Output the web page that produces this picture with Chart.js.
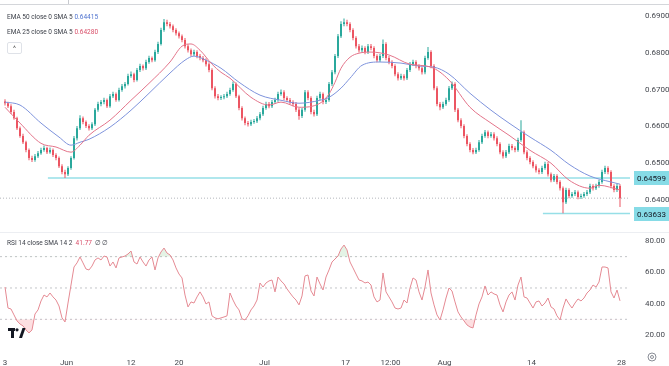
<!DOCTYPE html>
<html><head><meta charset="utf-8">
<script src="https://cdn.jsdelivr.net/npm/chart.js@4.4.0/dist/chart.umd.min.js"></script>
<style>
html,body{margin:0;padding:0;background:#fff;}
#wrap{position:relative;width:669px;height:366px;overflow:hidden;font-family:Roboto,"Liberation Sans",sans-serif;background:#fff;}
canvas{position:absolute;left:0;}
#cA{top:0;}
#cB{top:232px;}
#topline{position:absolute;left:0;top:4px;width:669px;height:1px;background:#d4d6da;}
#topmark{position:absolute;left:68px;top:0;width:1px;height:4px;background:#c8cacf;}
#sep{position:absolute;left:0;top:232px;width:669px;height:1px;background:#eceef2;}
.leg{position:absolute;left:7px;font-size:7px;line-height:10px;color:#3a3e47;white-space:nowrap;transform:scaleX(0.93);transform-origin:0 50%;}
#btn{position:absolute;left:7px;top:42px;width:13px;height:10px;border:1px solid #dfe2e8;border-radius:2px;font-size:7px;line-height:12px;text-align:center;color:#555;}
</style></head>
<body>
<div id="wrap">
<canvas id="cA" width="669" height="232"></canvas>
<canvas id="cB" width="669" height="134"></canvas>
<div id="topline"></div><div id="topmark"></div><div id="sep"></div>
<div class="leg" style="top:12px">EMA 50 close 0 SMA 5 <span style="color:#4f73cf">0.64415</span></div>
<div class="leg" style="top:27px">EMA 25 close 0 SMA 5 <span style="color:#d9506a">0.64280</span></div>
<div id="btn">^</div>
<div class="leg" style="top:238px">RSI 14 close SMA 14 2 &nbsp;<span style="color:#d9506a">41.77</span> &nbsp;∅ ∅</div>
</div>
<script>
// ---------- data ----------
const opens = [
0.6668,0.6663,0.6655,0.6639,0.6622,0.6595,0.6574,0.6557,0.6536,0.6514,
0.6509,0.6519,0.6527,0.6536,0.6541,0.6530,0.6536,0.6522,0.6514,0.6492,
0.6476,0.6470,0.6487,0.6514,0.6568,0.6595,0.6622,0.6612,0.6601,0.6595,
0.6606,0.6645,0.6661,0.6666,0.6672,0.6655,0.6682,0.6688,0.6672,0.6699,
0.6709,0.6715,0.6737,0.6742,0.6726,0.6753,0.6764,0.6758,0.6775,0.6786,
0.6780,0.6802,0.6824,0.6862,0.6883,0.6878,0.6872,0.6862,0.6853,0.6845,
0.6835,0.6818,0.6807,0.6796,0.6802,0.6791,0.6786,0.6780,0.6769,0.6753,
0.6704,0.6682,0.6677,0.6679,0.6682,0.6688,0.6699,0.6715,0.6682,0.6650,
0.6622,0.6609,0.6606,0.6612,0.6614,0.6622,0.6633,0.6650,0.6661,0.6655,
0.6666,0.6672,0.6688,0.6693,0.6677,0.6672,0.6666,0.6661,0.6645,0.6628,
0.6645,0.6693,0.6677,0.6639,0.6633,0.6677,0.6688,0.6666,0.6672,0.6715,
0.6747,0.6791,0.6845,0.6878,0.6883,0.6878,0.6862,0.6840,0.6818,0.6807,
0.6813,0.6802,0.6818,0.6813,0.6791,0.6780,0.6791,0.6824,0.6786,0.6775,
0.6764,0.6742,0.6731,0.6737,0.6731,0.6753,0.6769,0.6775,0.6764,0.6758,
0.6747,0.6786,0.6802,0.6764,0.6704,0.6661,0.6652,0.6661,0.6672,0.6704,
0.6715,0.6645,0.6617,0.6601,0.6574,0.6552,0.6536,0.6530,0.6536,0.6557,
0.6574,0.6584,0.6574,0.6579,0.6568,0.6552,0.6530,0.6519,0.6530,0.6547,
0.6541,0.6536,0.6563,0.6584,0.6530,0.6514,0.6503,0.6492,0.6481,0.6476,
0.6487,0.6498,0.6470,0.6454,0.6465,0.6449,0.6432,0.6394,0.6427,0.6411,
0.6416,0.6421,0.6408,0.6411,0.6416,0.6421,0.6438,0.6432,0.6438,0.6449,
0.6476,0.6487,0.6476,0.6438,0.6427,0.6438];
const highs = [
0.6674,0.6667,0.6660,0.6645,0.6626,0.6600,0.6580,0.6561,0.6540,0.6520,
0.6525,0.6533,0.6542,0.6548,0.6545,0.6543,0.6540,0.6527,0.6518,0.6497,
0.6482,0.6492,0.6519,0.6574,0.6601,0.6630,0.6627,0.6616,0.6606,0.6611,
0.6650,0.6667,0.6672,0.6678,0.6676,0.6688,0.6694,0.6692,0.6705,0.6715,
0.6721,0.6743,0.6749,0.6746,0.6759,0.6770,0.6768,0.6781,0.6792,0.6790,
0.6808,0.6830,0.6868,0.6892,0.6890,0.6884,0.6877,0.6867,0.6858,0.6850,
0.6840,0.6823,0.6812,0.6808,0.6807,0.6797,0.6791,0.6785,0.6774,0.6758,
0.6709,0.6688,0.6685,0.6688,0.6694,0.6705,0.6722,0.6719,0.6686,0.6655,
0.6627,0.6615,0.6618,0.6620,0.6628,0.6639,0.6656,0.6667,0.6666,0.6672,
0.6678,0.6694,0.6700,0.6698,0.6682,0.6677,0.6671,0.6666,0.6650,0.6651,
0.6699,0.6698,0.6682,0.6645,0.6683,0.6694,0.6692,0.6678,0.6721,0.6753,
0.6797,0.6851,0.6886,0.6893,0.6890,0.6883,0.6867,0.6845,0.6824,0.6820,
0.6818,0.6824,0.6824,0.6818,0.6796,0.6797,0.6836,0.6829,0.6791,0.6780,
0.6769,0.6747,0.6743,0.6742,0.6759,0.6775,0.6781,0.6780,0.6769,0.6763,
0.6792,0.6816,0.6807,0.6769,0.6709,0.6666,0.6667,0.6678,0.6710,0.6722,
0.6720,0.6650,0.6622,0.6606,0.6579,0.6557,0.6541,0.6542,0.6563,0.6580,
0.6590,0.6589,0.6585,0.6584,0.6573,0.6557,0.6535,0.6536,0.6553,0.6552,
0.6546,0.6569,0.6617,0.6589,0.6535,0.6519,0.6508,0.6497,0.6486,0.6493,
0.6504,0.6503,0.6475,0.6471,0.6470,0.6454,0.6437,0.6433,0.6432,0.6422,
0.6427,0.6426,0.6417,0.6422,0.6427,0.6444,0.6443,0.6444,0.6455,0.6482,
0.6493,0.6492,0.6481,0.6443,0.6444,0.6443];
const lows = [
0.6657,0.6650,0.6634,0.6618,0.6590,0.6569,0.6552,0.6530,0.6508,0.6503,
0.6504,0.6514,0.6523,0.6531,0.6525,0.6526,0.6517,0.6508,0.6487,0.6470,
0.6460,0.6465,0.6482,0.6510,0.6562,0.6590,0.6606,0.6596,0.6589,0.6590,
0.6601,0.6640,0.6655,0.6660,0.6650,0.6651,0.6677,0.6667,0.6668,0.6694,
0.6703,0.6711,0.6732,0.6720,0.6722,0.6748,0.6752,0.6753,0.6770,0.6774,
0.6776,0.6797,0.6820,0.6857,0.6872,0.6866,0.6856,0.6847,0.6839,0.6829,
0.6812,0.6801,0.6790,0.6791,0.6785,0.6780,0.6774,0.6763,0.6747,0.6698,
0.6676,0.6671,0.6672,0.6674,0.6677,0.6683,0.6694,0.6677,0.6644,0.6616,
0.6603,0.6600,0.6601,0.6607,0.6609,0.6617,0.6628,0.6645,0.6649,0.6650,
0.6661,0.6667,0.6683,0.6671,0.6666,0.6660,0.6655,0.6639,0.6618,0.6623,
0.6640,0.6671,0.6633,0.6627,0.6628,0.6672,0.6660,0.6661,0.6667,0.6710,
0.6742,0.6786,0.6840,0.6872,0.6872,0.6856,0.6834,0.6812,0.6801,0.6802,
0.6796,0.6797,0.6807,0.6785,0.6774,0.6775,0.6786,0.6780,0.6769,0.6758,
0.6736,0.6725,0.6726,0.6725,0.6726,0.6748,0.6764,0.6758,0.6752,0.6741,
0.6742,0.6781,0.6758,0.6698,0.6655,0.6644,0.6647,0.6656,0.6667,0.6699,
0.6639,0.6611,0.6595,0.6568,0.6546,0.6530,0.6524,0.6525,0.6531,0.6552,
0.6569,0.6568,0.6569,0.6562,0.6546,0.6524,0.6513,0.6514,0.6525,0.6535,
0.6530,0.6531,0.6558,0.6524,0.6508,0.6497,0.6486,0.6475,0.6470,0.6471,
0.6482,0.6464,0.6448,0.6449,0.6443,0.6426,0.6364,0.6389,0.6405,0.6406,
0.6411,0.6402,0.6403,0.6406,0.6411,0.6416,0.6426,0.6427,0.6433,0.6444,
0.6471,0.6470,0.6432,0.6421,0.6422,0.6381];
const closes = [
0.6663,0.6655,0.6639,0.6622,0.6595,0.6574,0.6557,0.6536,0.6514,0.6509,
0.6519,0.6527,0.6536,0.6541,0.6530,0.6536,0.6522,0.6514,0.6492,0.6476,
0.6470,0.6487,0.6514,0.6568,0.6595,0.6622,0.6612,0.6601,0.6595,0.6606,
0.6645,0.6661,0.6666,0.6672,0.6655,0.6682,0.6688,0.6672,0.6699,0.6709,
0.6715,0.6737,0.6742,0.6726,0.6753,0.6764,0.6758,0.6775,0.6786,0.6780,
0.6802,0.6824,0.6862,0.6883,0.6878,0.6872,0.6862,0.6853,0.6845,0.6835,
0.6818,0.6807,0.6796,0.6802,0.6791,0.6786,0.6780,0.6769,0.6753,0.6704,
0.6682,0.6677,0.6679,0.6682,0.6688,0.6699,0.6715,0.6682,0.6650,0.6622,
0.6609,0.6606,0.6612,0.6614,0.6622,0.6633,0.6650,0.6661,0.6655,0.6666,
0.6672,0.6688,0.6693,0.6677,0.6672,0.6666,0.6661,0.6645,0.6628,0.6645,
0.6693,0.6677,0.6639,0.6633,0.6677,0.6688,0.6666,0.6672,0.6715,0.6747,
0.6791,0.6845,0.6878,0.6883,0.6878,0.6862,0.6840,0.6818,0.6807,0.6813,
0.6802,0.6818,0.6813,0.6791,0.6780,0.6791,0.6824,0.6786,0.6775,0.6764,
0.6742,0.6731,0.6737,0.6731,0.6753,0.6769,0.6775,0.6764,0.6758,0.6747,
0.6786,0.6802,0.6764,0.6704,0.6661,0.6652,0.6661,0.6672,0.6704,0.6715,
0.6645,0.6617,0.6601,0.6574,0.6552,0.6536,0.6530,0.6536,0.6557,0.6574,
0.6584,0.6574,0.6579,0.6568,0.6552,0.6530,0.6519,0.6530,0.6547,0.6541,
0.6536,0.6563,0.6584,0.6530,0.6514,0.6503,0.6492,0.6481,0.6476,0.6487,
0.6498,0.6470,0.6454,0.6465,0.6449,0.6432,0.6394,0.6427,0.6411,0.6416,
0.6421,0.6408,0.6411,0.6416,0.6421,0.6438,0.6432,0.6438,0.6449,0.6476,
0.6487,0.6476,0.6438,0.6427,0.6438,0.6405];

const ema50Idx = [0,5,12,18,22,25,28,35,42,48,55,60,63,67,72,78,85,92,98,105,108,112,115,119,125,132,138,143,148,155,162,168,175,182,188,195,202,205];
const ema50    = [0.6666,0.6658,0.6609,0.6571,0.6549,0.6557,0.6565,0.6598,0.6644,0.6690,0.6745,0.6780,0.6791,0.6780,0.6758,0.6720,0.6685,0.6671,0.6663,0.6671,0.6679,0.6704,0.6731,0.6766,0.6775,0.6772,0.6764,0.6761,0.6742,0.6690,0.6644,0.6609,0.6571,0.6535,0.6497,0.6465,0.6449,0.6443];
const ema25Idx = [0,5,12,17,22,25,28,35,42,48,55,59,62,65,69,72,75,82,88,92,98,105,108,110,112,115,118,122,128,135,142,148,155,162,168,175,182,188,195,198,205];
const ema25    = [0.6652,0.6609,0.6554,0.6544,0.6530,0.6549,0.6576,0.6617,0.6671,0.6717,0.6775,0.6818,0.6824,0.6807,0.6769,0.6747,0.6731,0.6679,0.6658,0.6666,0.6652,0.6663,0.6688,0.6720,0.6758,0.6788,0.6799,0.6802,0.6794,0.6769,0.6761,0.6726,0.6652,0.6609,0.6576,0.6535,0.6500,0.6454,0.6432,0.6440,0.6427];

const rsi = [
50.6,37.2,36.6,32.8,29.0,27.0,25.8,23.2,21.3,23.2,
33.4,36.0,41.7,45.5,44.3,46.8,44.3,42.3,38.5,30.9,
28.3,40.4,51.9,63.4,66.0,69.8,66.0,62.1,61.5,64.0,
67.9,69.2,67.9,70.4,69.8,64.0,66.6,62.8,69.2,69.8,
70.4,71.7,73.6,66.6,65.3,69.8,66.6,64.0,67.9,69.8,
61.5,69.2,73.0,75.5,72.3,71.1,67.9,62.8,58.9,56.4,
45.5,37.9,41.1,40.4,44.3,47.5,44.3,39.8,41.1,32.2,
30.9,30.3,30.9,31.5,32.2,46.8,42.3,38.5,36.0,30.3,
29.6,32.2,36.0,38.5,42.3,53.2,50.6,53.2,54.5,55.1,
47.5,57.0,54.5,52.6,49.4,46.8,44.3,42.3,39.2,44.9,
57.7,58.3,48.1,44.9,57.0,52.6,48.7,57.0,61.5,66.6,
68.5,70.4,74.9,77.4,74.3,66.6,62.8,58.9,55.1,54.5,
53.2,53.8,51.9,44.3,41.1,42.3,59.6,47.5,44.3,41.1,
37.2,36.6,37.2,42.3,40.4,50.0,56.4,55.1,47.5,42.3,
50.6,61.5,46.8,39.2,32.8,29.6,36.0,43.6,50.0,48.1,
41.1,34.7,31.5,29.0,26.4,25.1,24.5,32.8,39.8,44.3,
51.3,45.5,47.5,46.2,45.5,39.2,34.7,41.1,45.5,47.5,
42.3,51.9,57.0,44.3,43.6,40.4,37.2,41.1,41.7,38.5,
40.4,43.6,37.9,36.6,32.2,29.6,37.2,43.0,39.8,37.2,
40.4,43.0,41.7,43.6,46.8,48.7,51.9,50.6,53.8,63.4,
63.4,62.8,47.5,43.6,48.7,41.77];

const levelValues = [0.64599, 0.63633];
const levelStartIdx = [14.3, 179.3];
const priceTicks = [0.64, 0.65, 0.66, 0.67, 0.68, 0.69];
const rsiTicks = [20, 40, 60, 80];
const rsiLevels = [70, 50, 30];
const xTickIdx = [0, 20.5, 42, 58, 86.5, 113.5, 128.5, 146.5, 175.5, 205.5];
const xTickLabels = ['3', 'Jun', '12', '20', 'Jul', '17', '12:00', 'Aug', '14', '28'];

// ---------- axis ranges ----------
const X_MIN = -5/3, X_MAX = 625/3;
const P_MIN = 0.63185, P_MAX = 0.69299;
const R_MIN = 13.6, R_MAX = 85.1;

Chart.defaults.font.family = "Roboto, 'Liberation Sans', sans-serif";
Chart.defaults.font.size = 8;
Chart.defaults.color = '#45484f';

const UP = '#2aa89c', DOWN = '#ec5562';
const candleColors = closes.map((c, i) => c >= opens[i] ? UP : DOWN);
const lastPrice = closes[closes.length - 1];

const boxPlugin = {
  id: 'boxes',
  afterDraw(chart) {
    const ctx = chart.ctx, ys = chart.scales.y;
    ctx.save();
    levelValues.forEach(v => {
      const py = Math.round(ys.getPixelForValue(v));
      ctx.fillStyle = '#86dbe6';
      ctx.fillRect(634, py - 7, 35, 14);
      ctx.fillStyle = '#131722';
      ctx.font = "8px Roboto, 'Liberation Sans', sans-serif";
      ctx.textBaseline = 'middle';
      ctx.fillText(v.toFixed(5), 637, py + 0.5);
    });
    ctx.restore();
  }
};

new Chart(document.getElementById('cA'), {
  type: 'bar',
  data: {
    datasets: [
      ...levelValues.map((v, k) => ({
        type: 'line', data: [{x: levelStartIdx[k], y: v}, {x: X_MAX, y: v}],
        borderColor: '#96dfe7', borderWidth: 1.5, pointRadius: 0, order: 10
      })),
      { type: 'line', data: [{x: X_MIN, y: lastPrice}, {x: X_MAX, y: lastPrice}],
        borderColor: '#b4b7bd', borderWidth: 1, borderDash: [1, 2], pointRadius: 0, order: 9 },
      { type: 'bar', data: closes.map((c, i) => ({x: i, y: [lows[i], highs[i]]})),
        backgroundColor: candleColors, barThickness: 1, grouped: false, borderWidth: 0, inflateAmount: 0, order: 6 },
      { type: 'bar', data: closes.map((c, i) => ({x: i, y: [opens[i], c]})),
        backgroundColor: candleColors, barThickness: 2, grouped: false, borderWidth: 0, inflateAmount: 0, minBarLength: 1, order: 5 },
      { type: 'line', data: ema50Idx.map((x, k) => ({x, y: ema50[k]})),
        borderColor: '#7e93dc', borderWidth: 1, pointRadius: 0, cubicInterpolationMode: 'monotone', order: 2 },
      { type: 'line', data: ema25Idx.map((x, k) => ({x, y: ema25[k]})),
        borderColor: '#e3748a', borderWidth: 1, pointRadius: 0, cubicInterpolationMode: 'monotone', order: 1 }
    ]
  },
  options: {
    animation: false, responsive: false, devicePixelRatio: 1,
    layout: {padding: {top: 5, bottom: 2, left: 0, right: 0}},
    plugins: {legend: {display: false}, tooltip: {enabled: false}},
    scales: {
      x: {type: 'linear', min: X_MIN, max: X_MAX, offset: false, display: false},
      y: {position: 'right', min: P_MIN, max: P_MAX,
          afterFit(s) { s.width = 39; s.paddingTop = 0; s.paddingBottom = 0; },
          afterBuildTicks(s) { s.ticks = priceTicks.map(v => ({value: v})); },
          ticks: {callback: v => Number(v).toFixed(5), padding: 7, autoSkip: false},
          grid: {display: false}, border: {display: false}}
    }
  },
  plugins: [boxPlugin]
});

const decoPlugin = {
  id: 'deco',
  afterDraw(chart) {
    const ctx = chart.ctx;
    ctx.save();
    // TradingView logo
    ctx.fillStyle = '#131722';
    ctx.fillRect(8, 96, 7, 3);
    ctx.fillRect(11, 96, 3, 10);
    ctx.beginPath(); ctx.arc(17, 97.8, 1.6, 0, Math.PI * 2); ctx.fill();
    ctx.beginPath(); ctx.moveTo(19, 106); ctx.lineTo(22.5, 96); ctx.lineTo(25.5, 96); ctx.lineTo(22, 106); ctx.closePath(); ctx.fill();
    // settings gear
    ctx.strokeStyle = '#8a8e97'; ctx.lineWidth = 1;
    ctx.beginPath(); ctx.arc(652, 125, 4, 0, Math.PI * 2); ctx.stroke();
    ctx.beginPath(); ctx.arc(652, 125, 1.5, 0, Math.PI * 2); ctx.stroke();
    ctx.restore();
  }
};

const rsiPts = rsi.map((v, i) => ({x: i, y: v}));
new Chart(document.getElementById('cB'), {
  type: 'line',
  data: {
    datasets: [
      ...rsiLevels.map(v => ({
        data: [{x: X_MIN, y: v}, {x: X_MAX, y: v}],
        borderColor: '#c2c4c8', borderWidth: 1, borderDash: [2, 3], pointRadius: 0, order: 10
      })),
      { data: rsiPts, borderWidth: 0, pointRadius: 0,
        fill: {target: {value: 70}, above: 'rgba(76,175,80,0.15)', below: 'rgba(0,0,0,0)'}, order: 8 },
      { data: rsiPts, borderWidth: 0, pointRadius: 0,
        fill: {target: {value: 30}, above: 'rgba(0,0,0,0)', below: 'rgba(242,54,69,0.16)'}, order: 7 },
      { data: rsiPts, borderColor: '#e58a93', borderWidth: 1, pointRadius: 0, tension: 0, order: 1 }
    ]
  },
  options: {
    animation: false, responsive: false, devicePixelRatio: 1,
    layout: {padding: {top: 1, bottom: 0, left: 0, right: 0}},
    plugins: {legend: {display: false}, tooltip: {enabled: false}},
    scales: {
      x: {type: 'linear', min: X_MIN, max: X_MAX, offset: false,
          afterFit(s) { s.height = 21; s.paddingLeft = 0; s.paddingRight = 0; },
          afterBuildTicks(s) { s.ticks = xTickIdx.map(v => ({value: v})); },
          ticks: {callback: (v, i) => xTickLabels[i], padding: 5, autoSkip: false, maxRotation: 0},
          grid: {display: false}, border: {display: false}},
      y: {position: 'right', min: R_MIN, max: R_MAX,
          afterFit(s) { s.width = 39; s.paddingTop = 0; s.paddingBottom = 0; },
          afterBuildTicks(s) { s.ticks = rsiTicks.map(v => ({value: v})); },
          ticks: {callback: v => Number(v).toFixed(2), padding: 7, autoSkip: false},
          grid: {display: false}, border: {display: false}}
    }
  },
  plugins: [decoPlugin]
});
</script>
</body></html>
